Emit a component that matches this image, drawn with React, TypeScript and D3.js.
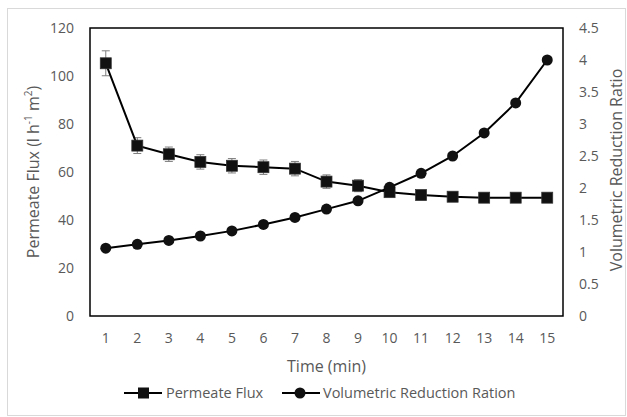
import React, { useEffect, useRef } from 'react';
import * as d3 from 'd3';

// time points (min)
const times = [1, 2, 3, 4, 5, 6, 7, 8, 9, 10, 11, 12, 13, 14, 15];
// permeate flux (l h-1 m2) and its error
const flux = [105.3, 71, 67.4, 64.2, 62.6, 62, 61.4, 56, 54.3, 51.6, 50.4, 49.7, 49.3, 49.3, 49.3];
const fluxErr = [5.2, 3.3, 3, 3, 3, 3, 3, 2.8, 2.5, 1.5, 1.2, 1, 1, 1, 1];
// volumetric reduction ratio
const vrr = [1.06, 1.12, 1.18, 1.25, 1.33, 1.43, 1.54, 1.67, 1.8, 2.01, 2.23, 2.5, 2.86, 3.33, 4.0];

const leftTicks = [0, 20, 40, 60, 80, 100, 120];
const rightTicks = [0, 0.5, 1, 1.5, 2, 2.5, 3, 3.5, 4, 4.5];

const W = 627;
const H = 417;
const FONT = '"Open Sans", sans-serif';
const GREY = '#595959';

const App = () => {
  const ref = useRef<SVGSVGElement>(null);

  useEffect(() => {
    const svg = d3.select(ref.current);
    svg.selectAll('*').remove();

    const margin = { top: 28, right: 64, bottom: 101, left: 90 };
    const width = W - margin.left - margin.right;
    const height = H - margin.top - margin.bottom;

    // outer chart frame
    svg.append('rect')
      .attr('x', 7.5).attr('y', 8.5)
      .attr('width', 618).attr('height', 407)
      .attr('fill', '#fff')
      .attr('stroke', '#d9d9d9');

    const g = svg.append('g').attr('transform', `translate(${margin.left},${margin.top})`);

    const x = d3.scaleBand<number>().domain(times).range([0, width]);
    const cx = (d: number) => (x(d) as number) + x.bandwidth() / 2;
    const yL = d3.scaleLinear().domain([0, 120]).range([height, 0]);
    const yR = d3.scaleLinear().domain([0, 4.5]).range([height, 0]);

    // plot area box
    g.append('rect')
      .attr('width', width).attr('height', height)
      .attr('fill', 'none')
      .attr('stroke', '#000')
      .attr('stroke-width', 1.5);

    // left ticks
    g.append('g').selectAll('text').data(leftTicks).enter().append('text')
      .attr('x', -16).attr('y', d => yL(d)).attr('dy', '0.35em')
      .attr('text-anchor', 'end')
      .attr('font-family', FONT).attr('font-size', 14).attr('fill', GREY)
      .text(d => d);

    // right ticks
    g.append('g').selectAll('text').data(rightTicks).enter().append('text')
      .attr('x', width + 16).attr('y', d => yR(d)).attr('dy', '0.35em')
      .attr('text-anchor', 'start')
      .attr('font-family', FONT).attr('font-size', 14).attr('fill', GREY)
      .text(d => d);

    // x ticks
    g.append('g').selectAll('text').data(times).enter().append('text')
      .attr('x', d => cx(d)).attr('y', height + 22).attr('dy', '0.35em')
      .attr('text-anchor', 'middle')
      .attr('font-family', FONT).attr('font-size', 14).attr('fill', GREY)
      .text(d => d);

    // axis titles
    g.append('text')
      .attr('x', width / 2).attr('y', height + 50).attr('dy', '0.35em')
      .attr('text-anchor', 'middle')
      .attr('font-family', FONT).attr('font-size', 16).attr('fill', GREY)
      .text('Time (min)');

    const lt = g.append('text')
      .attr('transform', `translate(${-57},${height / 2}) rotate(-90)`)
      .attr('dy', '0.35em')
      .attr('text-anchor', 'middle')
      .attr('font-family', FONT).attr('font-size', 16).attr('fill', GREY);
    lt.append('tspan').text('Permeate Flux (l h');
    lt.append('tspan').attr('baseline-shift', 'super').attr('font-size', 10).text('-1');
    lt.append('tspan').text(' m');
    lt.append('tspan').attr('baseline-shift', 'super').attr('font-size', 10).text('2');
    lt.append('tspan').text(')');

    g.append('text')
      .attr('transform', `translate(${width + 53},${height / 2 - 2}) rotate(-90)`)
      .attr('dy', '0.35em')
      .attr('text-anchor', 'middle')
      .attr('font-family', FONT).attr('font-size', 16).attr('fill', GREY)
      .text('Volumetric Reduction Ratio');

    // flux error bars
    const eb = g.append('g').attr('stroke', '#7f7f7f').attr('stroke-width', 1);
    times.forEach((t, i) => {
      const top = yL(flux[i] + fluxErr[i]);
      const bot = yL(flux[i] - fluxErr[i]);
      eb.append('line').attr('x1', cx(t)).attr('x2', cx(t)).attr('y1', top).attr('y2', bot);
      eb.append('line').attr('x1', cx(t) - 4).attr('x2', cx(t) + 4).attr('y1', top).attr('y2', top);
      eb.append('line').attr('x1', cx(t) - 4).attr('x2', cx(t) + 4).attr('y1', bot).attr('y2', bot);
    });

    // flux line + squares
    const lineL = d3.line<number>().x((_, i) => cx(times[i])).y(d => yL(d));
    g.append('path').datum(flux)
      .attr('d', lineL).attr('fill', 'none')
      .attr('stroke', '#000').attr('stroke-width', 2);
    g.append('g').selectAll('rect').data(flux).enter().append('rect')
      .attr('x', (_, i) => cx(times[i]) - 5.5).attr('y', d => yL(d) - 5.5)
      .attr('width', 11).attr('height', 11)
      .attr('fill', '#111').attr('stroke', '#333').attr('stroke-width', 0.75);

    // vrr line + circles
    const lineR = d3.line<number>().x((_, i) => cx(times[i])).y(d => yR(d));
    g.append('path').datum(vrr)
      .attr('d', lineR).attr('fill', 'none')
      .attr('stroke', '#000').attr('stroke-width', 2);
    g.append('g').selectAll('circle').data(vrr).enter().append('circle')
      .attr('cx', (_, i) => cx(times[i])).attr('cy', d => yR(d))
      .attr('r', 5.5).attr('fill', '#111');

    // legend
    const ly = 393;
    const leg = svg.append('g');
    leg.append('line').attr('x1', 124).attr('x2', 162).attr('y1', ly).attr('y2', ly)
      .attr('stroke', '#000').attr('stroke-width', 2);
    leg.append('rect').attr('x', 138).attr('y', ly - 5.5).attr('width', 11).attr('height', 11).attr('fill', '#111');
    leg.append('text').attr('x', 166).attr('y', ly).attr('dy', '0.35em')
      .attr('font-family', FONT).attr('font-size', 14.5).attr('fill', GREY)
      .text('Permeate Flux');
    leg.append('line').attr('x1', 282).attr('x2', 320).attr('y1', ly).attr('y2', ly)
      .attr('stroke', '#000').attr('stroke-width', 2);
    leg.append('circle').attr('cx', 300).attr('cy', ly).attr('r', 5.5).attr('fill', '#111');
    leg.append('text').attr('x', 323).attr('y', ly).attr('dy', '0.35em')
      .attr('font-family', FONT).attr('font-size', 14.5).attr('fill', GREY)
      .text('Volumetric Reduction Ration');
  }, []);

  return (
    <svg ref={ref} width={W} height={H} style={{ position: 'absolute', left: 0, top: 0, background: '#fff' }} />
  );
};

export default App;
